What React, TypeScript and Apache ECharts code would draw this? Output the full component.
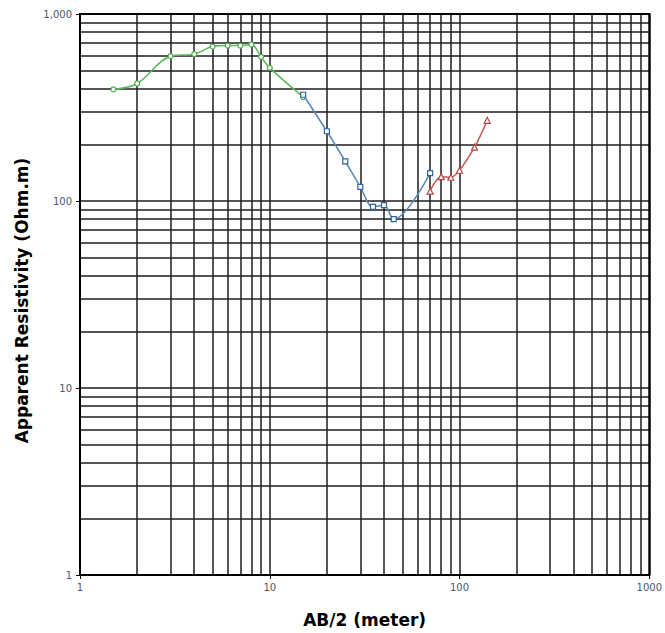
import React, { useEffect, useRef } from "react";
import * as echarts from "echarts";

const greenX = [1.5, 2, 3, 4, 5, 6, 7, 8, 9, 10, 15];
const greenY = [395, 425, 595, 610, 670, 678, 678, 687, 590, 515, 360];
const blueX = [15, 20, 25, 30, 35, 40, 45, 70];
const blueY = [370, 236, 163, 119, 93, 95, 80, 141];
const redX = [70, 80, 90, 100, 120, 140];
const redY = [113, 135, 134, 146, 194, 270];
const minorGrid = [2, 3, 4, 5, 6, 7, 8, 9, 20, 30, 40, 50, 60, 70, 80, 90, 200, 300, 400, 500, 600, 700, 800, 900];

const zip = (xs: number[], ys: number[]) => xs.map((x, i) => [x, ys[i]]);

export default function App() {
  const ref = useRef<HTMLDivElement>(null);
  useEffect(() => {
    const chart = echarts.init(ref.current!, undefined, { renderer: "svg" });
    const gridColor = "#1e1e1e";
    const labelStyle = { fontFamily: "DejaVu Sans", fontSize: 10, color: "#4d5570" };
    const nameStyle = { fontFamily: "DejaVu Sans", fontSize: 17, fontWeight: "bold" as const, color: "#000" };
    const markData: any[] = [
      ...minorGrid.map((v) => ({ xAxis: v })),
      ...minorGrid.map((v) => ({ yAxis: v })),
    ];
    chart.setOption({
      animation: false,
      backgroundColor: "#fff",
      grid: { left: 80, right: 11, top: 14, bottom: 56, show: true, borderColor: "#000", borderWidth: 2, z: 10 },
      xAxis: {
        type: "log",
        logBase: 10,
        min: 1,
        max: 1000,
        name: "AB/2 (meter)",
        nameLocation: "middle",
        nameGap: 36,
        nameTextStyle: nameStyle,
        axisLine: { show: true, lineStyle: { color: "#000", width: 2 } },
        axisTick: { show: true, length: 4, lineStyle: { color: "#000" } },
        axisLabel: { ...labelStyle, margin: 7, formatter: (v: number) => String(v) },
        splitLine: { show: true, lineStyle: { color: gridColor, width: 1.5 } },
      },
      yAxis: {
        type: "log",
        logBase: 10,
        min: 1,
        max: 1000,
        name: "Apparent Resistivity (Ohm.m)",
        nameLocation: "middle",
        nameGap: 50,
        nameTextStyle: { ...nameStyle, padding: [0, 12, 0, 0] },
        axisLine: { show: true, lineStyle: { color: "#000", width: 2 } },
        axisTick: { show: true, length: 4, lineStyle: { color: "#000" } },
        axisLabel: {
          ...labelStyle,
          margin: 8,
          formatter: (v: number) => v.toLocaleString("en-US"),
        },
        splitLine: { show: true, lineStyle: { color: gridColor, width: 1.5 } },
      },
      series: [
        {
          type: "line",
          data: [[1, 1]],
          showSymbol: false,
          symbol: "none",
          lineStyle: { opacity: 0 },
          silent: true,
          z: 1,
          markLine: {
            silent: true,
            symbol: "none",
            label: { show: false },
            lineStyle: { color: gridColor, width: 1.5, type: "solid" },
            data: markData,
          },
        },
        {
          type: "line",
          data: zip(greenX, greenY),
          smooth: 0.35,
          symbol: "circle",
          symbolSize: 5,
          lineStyle: { color: "#5cb85c", width: 1.5 },
          itemStyle: { color: "#fff", borderColor: "#4aa84a", borderWidth: 1.2 },
          z: 5,
        },
        {
          type: "line",
          data: zip(blueX, blueY),
          smooth: 0.35,
          symbol: "rect",
          symbolSize: 5,
          lineStyle: { color: "#5a86b8", width: 1.5 },
          itemStyle: { color: "#fff", borderColor: "#2f63a0", borderWidth: 1.2 },
          z: 6,
        },
        {
          type: "line",
          data: zip(redX, redY),
          smooth: 0.35,
          symbol: "triangle",
          symbolSize: 6,
          lineStyle: { color: "#c65a58", width: 1.5 },
          itemStyle: { color: "#fff", borderColor: "#b84542", borderWidth: 1.2 },
          z: 6,
        },
      ],
    });
    return () => chart.dispose();
  }, []);
  return <div ref={ref} style={{ position: "fixed", left: 0, top: 0, width: 665, height: 633 }} />;
}
